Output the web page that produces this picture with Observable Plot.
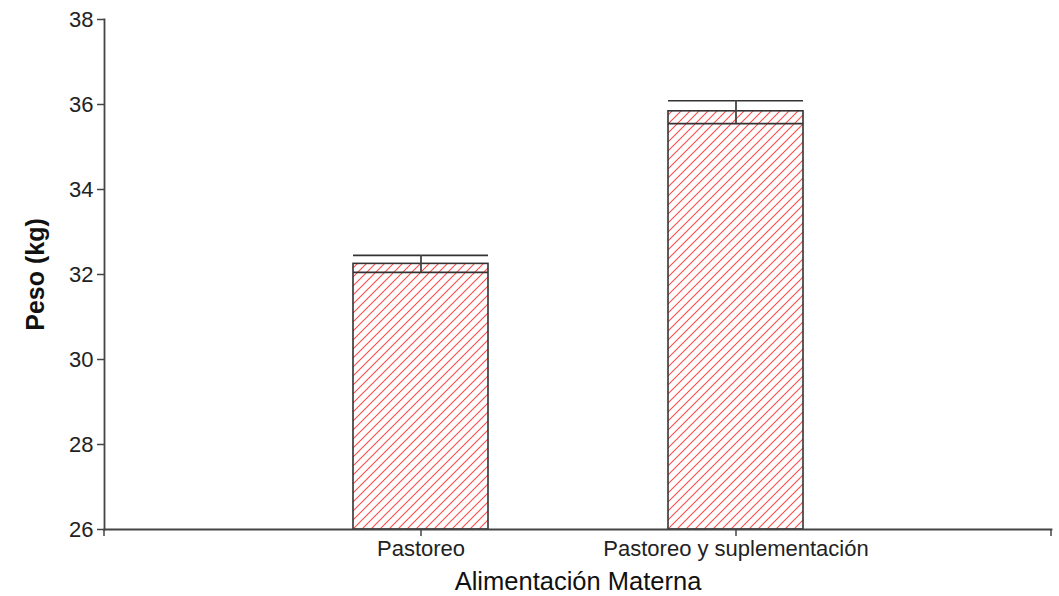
<!DOCTYPE html>
<html>
<head>
<meta charset="utf-8">
<script src="https://cdn.jsdelivr.net/npm/d3@7"></script>
<script src="https://cdn.jsdelivr.net/npm/@observablehq/plot@0.6"></script>
<style>
  html, body { margin: 0; padding: 0; background: #fff; }
  #chart { width: 1059px; height: 596px; }
</style>
</head>
<body>
<div id="chart"></div>
<script>
const categories = ["Pastoreo", "Pastoreo y suplementación"];
const means = [32.25, 35.84];
const upper = [32.45, 36.09];
const lower = [32.05, 35.55];
const yTicks = [26, 28, 30, 32, 34, 36, 38];

const data = categories.map((c, i) => ({cat: c, mean: means[i], hi: upper[i], lo: lower[i]}));

const defs = () => {
  const d = d3.create("svg:defs");
  const p = d.append("pattern")
    .attr("id", "hatch")
    .attr("patternUnits", "userSpaceOnUse")
    .attr("width", 9).attr("height", 9);
  p.append("path")
    .attr("d", "M-1,1 L1,-1 M0,9 L9,0 M8,10 L10,8")
    .attr("stroke", "#ff2a2a")
    .attr("stroke-width", 1.1)
    .attr("stroke-opacity", 0.85);
  return d.node();
};

const plot = Plot.plot({
  width: 1059,
  height: 596,
  marginTop: 19,
  marginBottom: 67,
  marginLeft: 104,
  marginRight: 8,
  style: {fontFamily: "'Liberation Sans', Arial, sans-serif", color: "#222", background: "#fff"},
  x: {domain: categories, paddingInner: 0.573, paddingOuter: 0.787, label: null},
  y: {domain: [26, 38], ticks: yTicks, label: null},
  marks: [
    defs,
    Plot.barY(data, {x: "cat", y1: 26, y2: "mean", fill: "url(#hatch)", stroke: "#333", strokeWidth: 1.6}),
    Plot.tickY(data, {x: "cat", y: "hi", stroke: "#333", strokeWidth: 1.6}),
    Plot.tickY(data, {x: "cat", y: "lo", stroke: "#333", strokeWidth: 1.6}),
    Plot.ruleX(data, {x: "cat", y1: "lo", y2: "hi", stroke: "#444", strokeWidth: 1.8}),
    Plot.frame({anchor: "left", stroke: "#444", strokeWidth: 1.8}),
    Plot.frame({anchor: "bottom", stroke: "#444", strokeWidth: 1.8}),
    Plot.axisY({ticks: yTicks, tickSize: 7, tickPadding: 4, fontSize: 22, label: null, stroke: "#444", strokeWidth: 1.5}),
    Plot.axisX({tickSize: 7, tickPadding: 4, fontSize: 22, label: null, stroke: "#444", strokeWidth: 1.5}),
    Plot.text(["Peso (kg)"], {frameAnchor: "left", textAnchor: "middle", dx: -69, rotate: -90, fontSize: 25, fontWeight: "bold", fill: "#111"}),
    Plot.text(["Alimentación Materna"], {frameAnchor: "bottom", dy: 60, fontSize: 25.5, fill: "#111"})
  ]
});

// End ticks of the x axis, positioned from the plot's own x scale range
const xs = plot.scale("x");
const ys = plot.scale("y");
const yBase = ys.apply(26);
const g = d3.select(plot).append("g").attr("stroke", "#444").attr("stroke-width", 1.5);
xs.range.forEach(px => {
  g.append("line").attr("x1", px).attr("x2", px).attr("y1", yBase).attr("y2", yBase + 7);
});

document.getElementById("chart").appendChild(plot);
</script>
</body>
</html>
